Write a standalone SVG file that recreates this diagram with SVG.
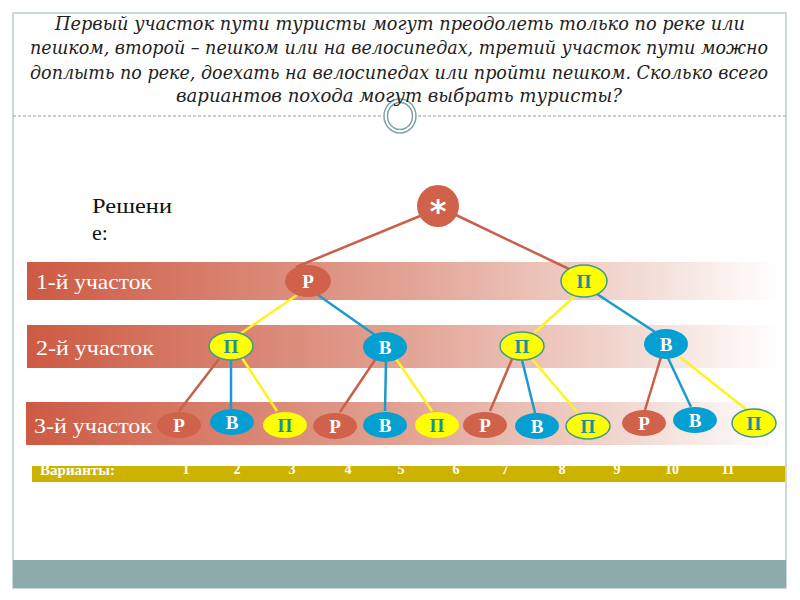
<svg xmlns="http://www.w3.org/2000/svg" width="800" height="600" viewBox="0 0 800 600">
<defs>
<linearGradient id="band" x1="0" y1="0" x2="1" y2="0">
<stop offset="0" stop-color="#CD5A43"/>
<stop offset="0.5" stop-color="#E2A293"/>
<stop offset="0.82" stop-color="#F3DCD6"/>
<stop offset="1" stop-color="#FFFFFF"/>
</linearGradient>
<style>
.title{font-family:"DejaVu Serif","Liberation Serif",serif;font-style:italic;font-size:18px;fill:#222;text-anchor:middle}
.lbl{font-family:"Liberation Serif","DejaVu Serif",serif;font-size:21px;fill:#fff}
.nt{font-family:"Liberation Serif","DejaVu Serif",serif;font-weight:bold;font-size:19px;text-anchor:middle}
.w{fill:#fff}
.t{fill:#1B8E9C}
.r{fill:#D0614A}
.b{fill:#05A0D2}
.y{fill:#FFFF00}
.ys{fill:#FFFF00;stroke:#3F9A8C;stroke-width:1.5}
.er{stroke:#C8604A;stroke-width:2.5;fill:none}
.eb{stroke:#1C9ACD;stroke-width:2.5;fill:none}
.ey{stroke:#FFF21F;stroke-width:2.5;fill:none}
.var{font-family:"Liberation Serif","DejaVu Serif",serif;font-weight:bold;font-size:14px;fill:#fff}
</style>
</defs>
<rect width="800" height="600" fill="#fff"/>
<rect x="13" y="13" width="773" height="575" fill="none" stroke="#B8CBCB" stroke-width="1.5"/>
<rect x="13" y="560" width="773" height="28" fill="#8DABAB"/>
<line x1="13" y1="116" x2="382" y2="116" stroke="#999" stroke-width="1" stroke-dasharray="3,2"/>
<line x1="418" y1="116" x2="786" y2="116" stroke="#999" stroke-width="1" stroke-dasharray="3,2"/>
<ellipse cx="400" cy="116" rx="16" ry="17" fill="#fff" stroke="#7FA3A3" stroke-width="1.5"/>
<ellipse cx="400" cy="116" rx="12.5" ry="13.5" fill="none" stroke="#7FA3A3" stroke-width="1.5"/>

<g id="title">
<text class="title" x="400" y="30" textLength="690" lengthAdjust="spacingAndGlyphs">Первый участок пути туристы могут преодолеть только по реке или</text>
<text class="title" x="399" y="54" textLength="738" lengthAdjust="spacingAndGlyphs">пешком, второй – пешком или на велосипедах, третий участок пути можно</text>
<text class="title" x="399" y="79" textLength="738" lengthAdjust="spacingAndGlyphs">доплыть по реке, доехать на велосипедах или пройти пешком. Сколько всего</text>
<text class="title" x="399" y="102" textLength="446" lengthAdjust="spacingAndGlyphs">вариантов похода могут выбрать туристы?</text>
</g>

<g id="solution">
<text x="92" y="213" font-family="Liberation Serif, serif" font-size="22" fill="#111" textLength="80" lengthAdjust="spacingAndGlyphs">Решени</text>
<text x="92" y="240" font-family="Liberation Serif, serif" font-size="22" fill="#111">е:</text>
</g>

<g id="bands">
<rect x="27" y="262" width="752" height="38" fill="url(#band)"/>
<rect x="27" y="325" width="752" height="43" fill="url(#band)"/>
<rect x="26" y="402" width="753" height="43" fill="url(#band)"/>
<text class="lbl" x="36" y="289" textLength="116" lengthAdjust="spacingAndGlyphs">1-й участок</text>
<text class="lbl" x="36" y="355" textLength="118" lengthAdjust="spacingAndGlyphs">2-й участок</text>
<text class="lbl" x="34" y="433" textLength="118" lengthAdjust="spacingAndGlyphs">3-й участок</text>
</g>

<g id="variants">
<rect x="32" y="466" width="753" height="16" fill="#CBB300"/>
<text class="var" x="40" y="475" font-size="17" textLength="75" lengthAdjust="spacingAndGlyphs">Варианты:</text>
<text class="var" x="40" y="494" font-size="17">12</text>
<text class="var" x="186" y="474" text-anchor="middle">1</text>
<text class="var" x="237" y="474" text-anchor="middle">2</text>
<text class="var" x="292" y="474" text-anchor="middle">3</text>
<text class="var" x="348" y="474" text-anchor="middle">4</text>
<text class="var" x="401" y="474" text-anchor="middle">5</text>
<text class="var" x="456" y="474" text-anchor="middle">6</text>
<text class="var" x="505" y="474" text-anchor="middle">7</text>
<text class="var" x="562" y="474" text-anchor="middle">8</text>
<text class="var" x="617" y="474" text-anchor="middle">9</text>
<text class="var" x="672" y="474" text-anchor="middle">10</text>
<text class="var" x="728" y="474" text-anchor="middle">11</text>
</g>

<g id="connectors">
<line class="er" x1="420" y1="216" x2="296" y2="267"/>
<line class="er" x1="456" y1="215" x2="569" y2="269"/>
<line class="ey" x1="297" y1="295" x2="240" y2="334"/>
<line class="eb" x1="318" y1="295" x2="375" y2="335"/>
<line class="ey" x1="575" y1="296" x2="533" y2="334"/>
<line class="eb" x1="597" y1="294" x2="655" y2="332"/>
<line class="er" x1="219" y1="359" x2="179" y2="411"/>
<line class="eb" x1="231" y1="360" x2="231" y2="409"/>
<line class="ey" x1="242" y1="358" x2="277" y2="411"/>
<line class="er" x1="375" y1="360" x2="340" y2="412"/>
<line class="eb" x1="386" y1="361" x2="385" y2="411"/>
<line class="ey" x1="396" y1="359" x2="432" y2="411"/>
<line class="er" x1="512" y1="359" x2="490" y2="411"/>
<line class="eb" x1="522" y1="360" x2="535" y2="413"/>
<line class="ey" x1="532" y1="359" x2="578" y2="413"/>
<line class="er" x1="661" y1="357" x2="645" y2="410"/>
<line class="eb" x1="668" y1="358" x2="691" y2="407"/>
<line class="ey" x1="680" y1="357" x2="747" y2="410"/>
</g>

<g id="root"><circle class="r" cx="438" cy="206" r="21"/><text class="w" x="438" y="222" font-family="DejaVu Sans, sans-serif" font-weight="bold" font-size="32" text-anchor="middle">*</text></g>

<g id="n1-r"><ellipse class="r" cx="308" cy="281" rx="23" ry="16"/><text class="nt w" x="308" y="288">Р</text></g>
<g id="n1-p"><ellipse class="ys" cx="584" cy="281" rx="23" ry="16"/><text class="nt t" x="584" y="288">П</text></g>

<g id="n2-p1"><ellipse class="ys" cx="231" cy="346" rx="22" ry="14"/><text class="nt t" x="231" y="353">П</text></g>
<g id="n2-b1"><ellipse class="b" cx="385" cy="347" rx="22" ry="15"/><text class="nt w" x="385" y="354">В</text></g>
<g id="n2-p2"><ellipse class="ys" cx="522" cy="346" rx="22" ry="14"/><text class="nt t" x="522" y="353">П</text></g>
<g id="n2-b2"><ellipse class="b" cx="666" cy="344" rx="22" ry="15"/><text class="nt w" x="666" y="351">В</text></g>

<g id="n3-1"><ellipse class="r" cx="179" cy="425" rx="22" ry="13"/><text class="nt w" x="179" y="432">Р</text></g>
<g id="n3-2"><ellipse class="b" cx="232" cy="422" rx="22" ry="13"/><text class="nt w" x="232" y="429">В</text></g>
<g id="n3-3"><ellipse class="y" cx="285" cy="425" rx="22" ry="13"/><text class="nt t" x="285" y="432">П</text></g>
<g id="n3-4"><ellipse class="r" cx="335" cy="426" rx="22" ry="13"/><text class="nt w" x="335" y="433">Р</text></g>
<g id="n3-5"><ellipse class="b" cx="385" cy="425" rx="22" ry="13"/><text class="nt w" x="385" y="432">В</text></g>
<g id="n3-6"><ellipse class="y" cx="437" cy="425" rx="22" ry="13"/><text class="nt t" x="437" y="432">П</text></g>
<g id="n3-7"><ellipse class="r" cx="485" cy="425" rx="22" ry="13"/><text class="nt w" x="485" y="432">Р</text></g>
<g id="n3-8"><ellipse class="b" cx="537" cy="426" rx="22" ry="13"/><text class="nt w" x="537" y="433">В</text></g>
<g id="n3-9"><ellipse class="ys" cx="588" cy="426" rx="22" ry="13"/><text class="nt t" x="588" y="433">П</text></g>
<g id="n3-10"><ellipse class="r" cx="644" cy="423" rx="22" ry="13"/><text class="nt w" x="644" y="430">Р</text></g>
<g id="n3-11"><ellipse class="b" cx="695" cy="420" rx="22" ry="13"/><text class="nt w" x="695" y="427">В</text></g>
<g id="n3-12"><ellipse class="ys" cx="754" cy="423" rx="22" ry="14"/><text class="nt t" x="754" y="430">П</text></g>
</svg>
